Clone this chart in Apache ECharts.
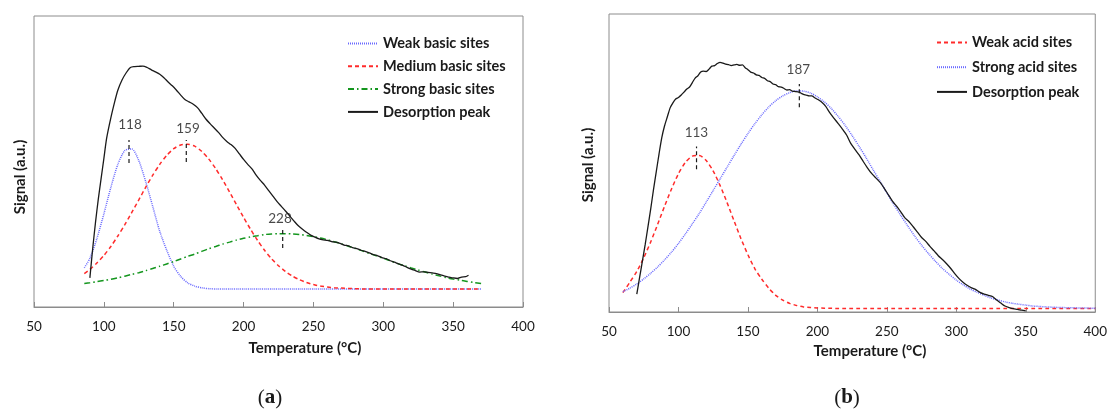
<!DOCTYPE html>
<html>
<head>
<meta charset="utf-8">
<script src="https://cdn.jsdelivr.net/npm/echarts@6/dist/echarts.min.js"></script>
<style>
  html, body { margin: 0; padding: 0; background: #fff; }
  #chart { width: 1110px; height: 410px; }
</style>
</head>
<body>
<div id="chart"></div>
<script>
// ---- panel (a): basic sites ----
var tempCompA = [86, 90, 95, 100, 105, 110, 115, 120, 125, 130, 135, 140, 145, 150, 155, 160, 165, 170, 175, 180,
    185, 190, 195, 200, 205, 210, 215, 220, 225, 230, 235, 240, 245, 250, 255, 260, 265, 270, 275, 280,
    285, 290, 295, 300, 305, 310, 315, 320, 325, 330, 335, 340, 345, 350, 355, 360, 365, 370];
var weakBasic = [13.5, 16.7, 23.5, 32, 41.1, 49, 53.8, 54.3, 50.3, 43, 34.5, 26, 19.5, 14, 10.5, 8.3, 7.2, 6.6, 6.3, 6.2,
    6.2, 6.2, 6.2, 6.2, 6.2, 6.2, 6.2, 6.2, 6.2, 6.2, 6.2, 6.2, 6.2, 6.2, 6.2, 6.2, 6.2, 6.2, 6.2, 6.2,
    6.2, 6.2, 6.2, 6.2, 6.2, 6.2, 6.2, 6.2, 6.2, 6.2, 6.2, 6.2, 6.2, 6.2, 6.2, 6.2, 6.2, 6.2];
var mediumBasic = [11.5, 12.9, 15.1, 17.7, 20.8, 24.4, 28.3, 32.5, 36.8, 41.2, 45.3, 49, 52.1, 54.4, 55.7, 55.9, 55.3, 53.5, 50.9, 47.6,
    43.7, 39.5, 35.1, 30.8, 26.7, 22.9, 19.5, 16.6, 14.2, 12.2, 10.6, 9.4, 8.4, 7.7, 7.2, 6.9, 6.6, 6.5, 6.4, 6.3,
    6.2, 6.2, 6.2, 6.2, 6.2, 6.2, 6.2, 6.2, 6.2, 6.2, 6.2, 6.2, 6.2, 6.2, 6.2, 6.2, 6.2, 6.2];
var strongBasic = [8.1, 8.3, 8.7, 9.1, 9.5, 10.0, 10.6, 11.2, 11.8, 12.5, 13.2, 14.0, 14.8, 15.6, 16.5, 17.4, 18.2, 19.1, 20.0, 20.8,
    21.6, 22.3, 23.0, 23.6, 24.1, 24.5, 24.9, 25.1, 25.2, 25.2, 25.1, 24.9, 24.6, 24.2, 23.7, 23.1, 22.4, 21.7, 20.9, 20.1,
    19.3, 18.4, 17.6, 16.7, 15.9, 15.0, 14.2, 13.4, 12.7, 12.0, 11.3, 10.7, 10.1, 9.6, 9.2, 8.8, 8.4, 8.1];
var tempPeakA = [90, 92, 94, 96, 98, 100, 102, 105, 108, 110, 113, 116, 119, 122, 125, 128,
    131, 134, 137, 140, 143, 146, 149, 152, 155, 158, 161, 164, 167, 170, 173, 176, 179, 182, 185, 188,
    191, 194, 197, 200, 203, 206, 209, 212, 215, 218, 221, 224, 227, 230, 233, 236, 239, 242, 245, 248,
    251, 254, 257, 260, 263, 266, 269, 272, 275, 278, 281, 284, 287, 290, 293, 296, 299, 302, 305, 308,
    311, 314, 317, 320, 323, 326, 329, 332, 335, 338, 341, 344, 347, 350, 353, 356, 359, 361];
var desorpA = [10, 20, 29, 37, 44, 51, 58, 65, 71, 74.5, 78, 80.5, 82.3, 82.6, 82.7, 82.8,
    82.3, 81.5, 80.8, 80, 78.8, 77.3, 76.0, 74.5, 72.8, 71.3, 70.5, 69.7, 68.5, 66.6, 64.6, 63.0, 61.5, 60.0, 58.3, 56.9,
    55.8, 54.5, 52.6, 50.7, 49.0, 47.5, 45.3, 43.5, 41.9, 40.0, 38.1, 36.2, 34.6, 33.0, 31.3, 29.6, 28.0, 26.8, 25.7, 24.7,
    24.0, 23.4, 23.1, 22.9, 22.5, 22.3, 21.9, 21.3, 21.0, 20.4, 20.1, 19.5, 19.1, 18.6, 18.0, 17.6, 17.0, 16.6, 15.9, 15.4,
    14.8, 14.3, 13.6, 13.0, 12.5, 12.0, 12.1, 11.9, 11.7, 11.5, 11.0, 10.6, 10.3, 10.0, 9.8, 10.3, 10.4, 10.9];
// peak marks: dashed tick from lo to hi, label text placed at labelT/labelV
var markA = ['118', '159', '228'];
var markTA = [118, 159, 228];
var markLoA = [49.5, 49.8, 20.3];
var markHiA = [57.4, 57.4, 27.5];
var markLabelTA = [118.7, 160.2, 226.1];
var markLabelVA = [62.5, 61.2, 30.2];

// ---- panel (b): acid sites ----
var tempCompB = [60, 65, 70, 75, 80, 85, 90, 95, 100, 105, 110, 115, 120, 125, 130, 135, 140, 145, 150, 155,
    160, 165, 170, 175, 180, 185, 190, 195, 200, 205, 210, 215, 220, 225, 230, 235, 240, 245, 250, 255,
    260, 265, 270, 275, 280, 285, 290, 295, 300, 305, 310, 315, 320, 325, 330, 335, 340, 345, 350, 355,
    360, 365, 370, 375, 380, 385, 390, 395, 400];
var weakAcid = [6.5, 10.0, 13.6, 18.2, 23.5, 29.4, 35.5, 41.3, 46.4, 50.2, 52.3, 52.5, 50.8, 47.3, 42.4, 36.7, 30.6, 24.6, 19.2, 14.5,
    11.0, 8.0, 5.6, 4.0, 2.9, 2.2, 1.7, 1.5, 1.35, 1.3, 1.25, 1.2, 1.2, 1.2, 1.2, 1.2, 1.2, 1.2, 1.2, 1.2,
    1.2, 1.2, 1.2, 1.2, 1.2, 1.2, 1.2, 1.2, 1.2, 1.2, 1.2, 1.2, 1.2, 1.2, 1.2, 1.2, 1.2, 1.2, 1.2, 1.2,
    1.2, 1.2, 1.2, 1.2, 1.2, 1.2, 1.2, 1.2, 1.2];
var strongAcid = [6.8, 8.0, 9.4, 11.1, 13.0, 15.1, 17.5, 20.1, 23.0, 26.2, 29.6, 33.1, 36.9, 40.8, 44.7, 48.6, 52.5, 56.3, 59.9, 63.2,
    66.2, 68.8, 70.9, 72.5, 73.6, 74.2, 74.1, 73.5, 72.2, 70.5, 68.3, 65.6, 62.6, 59.2, 55.6, 51.8, 47.8, 43.9, 40.0, 36.1,
    32.4, 28.9, 25.5, 22.4, 19.6, 17.0, 14.6, 12.6, 10.7, 9.1, 7.7, 6.6, 5.6, 4.7, 4.0, 3.4, 2.95, 2.6, 2.3, 2.0,
    1.85, 1.7, 1.6, 1.5, 1.45, 1.4, 1.35, 1.3, 1.25];
var tempPeakB = [70, 72, 74, 76, 78, 80, 82, 84, 86, 88, 90, 92, 94, 96, 98, 100, 102, 104, 106, 108,
    110, 112, 114, 116, 118, 120, 122, 124, 126, 128, 130, 132, 134, 136, 138, 140, 142, 144, 146, 148,
    150, 152, 154, 156, 158, 160, 162, 164, 166, 168, 170, 172, 174, 176, 178, 180, 182, 184, 186, 188,
    190, 192, 194, 196, 198, 200, 203, 206, 209, 212, 215, 218, 221, 224, 227, 230, 233, 236, 239, 242,
    245, 248, 251, 254, 257, 260, 263, 266, 269, 272, 275, 278, 281, 284, 287, 290, 293, 296, 299, 302,
    305, 308, 311, 314, 317, 320, 323, 326, 329, 332, 335, 338, 341, 344, 347, 350];
var desorpB = [6, 11.5, 17, 22.5, 28.5, 34.5, 41, 47, 53, 58.5, 62.5, 65.5, 68.5, 70.2, 71.5, 72, 72.8, 73.8, 74.8, 75.5,
    77, 78.5, 79.3, 80.5, 80.8, 80.7, 81.5, 82.5, 82.7, 83.4, 83.8, 83.5, 83.2, 83.0, 82.7, 82.9, 83.1, 82.8, 82.9, 82.0,
    81.3, 80.5, 80.2, 79.6, 79.4, 78.7, 78.4, 77.6, 77.3, 76.5, 76.3, 75.6, 75.5, 75.0, 74.5, 74.6, 74.1, 74.0, 73.9, 73.5,
    73.0, 72.8, 72.5, 72.5, 71.9, 71.4, 70.5, 69.0, 66.8, 65.0, 63.2, 61.4, 59.4, 56.6, 54.6, 52.7, 50.5, 48.4, 46.5, 45.0,
    43.6, 41.6, 39.4, 37.2, 35.5, 33.6, 31.6, 30.3, 28.6, 26.8, 25.0, 23.7, 22.0, 20.5, 18.9, 17.6, 16.2, 14.6, 12.8, 11.2,
    9.9, 8.9, 8.1, 7.5, 6.6, 6.0, 5.6, 5.2, 4.0, 3.0, 2.0, 1.5, 1.1, 0.9, 0.6, 0.4];
var markB = ['113', '187'];
var markTB = [113, 187];
var markLoB = [47.9, 68.7];
var markHiB = [55.5, 76.5];
var markLabelTB = [112.9, 186.3];
var markLabelVB = [60.2, 81.4];

var xTicks = [50, 400, 50]; // min, max, interval

var FONT = 'Lato';
var TXT = '#1a1a1a';
var BLUE = '#6a6aff', RED = '#ff2b2b', GREEN = '#14961e', BLACK = '#1a1a1a';

function pairs(xs, ys) {
    return xs.map(function (x, i) { return [x, ys[i]]; });
}

function curve(name, idx, xs, ys, color, type, width) {
    return {
        name: name, type: 'line', xAxisIndex: idx, yAxisIndex: idx,
        data: pairs(xs, ys), smooth: 0.25, symbol: 'none', silent: true,
        lineStyle: { color: color, type: type, width: width },
        itemStyle: { color: color }
    };
}

function marks(idx, names, ts, lo, hi, lt, lv) {
    var out = [];
    ts.forEach(function (t, i) {
        out.push({
            type: 'line', xAxisIndex: idx, yAxisIndex: idx, symbol: 'none', silent: true,
            data: [[t, lo[i]], [t, hi[i]]],
            lineStyle: { color: BLACK, type: [4, 3], width: 1.2 }
        });
    });
    out.push({
        type: 'scatter', xAxisIndex: idx, yAxisIndex: idx, symbolSize: 0, silent: true,
        data: lt.map(function (t, i) { return [t, lv[i], names[i]]; }),
        label: {
            show: true, position: 'inside', color: TXT, fontFamily: FONT, fontSize: 13.5,
            formatter: function (p) { return p.value[2]; }
        }
    });
    return out;
}

function xAxisFor(idx) {
    return {
        type: 'value', gridIndex: idx, min: xTicks[0], max: xTicks[1], interval: xTicks[2],
        axisLine: { lineStyle: { color: '#8c8c8c', width: 1 } },
        axisTick: { inside: true, length: 5, lineStyle: { color: '#8c8c8c' } },
        axisLabel: { fontFamily: FONT, fontSize: 13.5, color: TXT, margin: 13 },
        splitLine: { show: false }
    };
}

function yAxisFor(idx) {
    return {
        type: 'value', gridIndex: idx, min: 0, max: 100,
        axisLine: { show: false }, axisTick: { show: false },
        axisLabel: { show: false }, splitLine: { show: false }
    };
}

function legendFor(names, left, top, gap) {
    return {
        data: names, orient: 'vertical', left: left, top: top, padding: 0,
        itemWidth: 30, itemHeight: 14, itemGap: gap, selectedMode: false,
        itemStyle: { opacity: 0 },
        textStyle: { fontFamily: FONT, fontWeight: 'bold', fontSize: 14.5, color: TXT }
    };
}

function boldText(str, x, y, rot) {
    return {
        type: 'text', x: x, y: y, rotation: rot,
        style: { text: str, fontFamily: FONT, fontWeight: 'bold', fontSize: 15, fill: TXT, align: 'center', verticalAlign: 'middle' }
    };
}

function panelTag(letter, x, y) {
    return {
        type: 'text', x: x, y: y,
        style: { text: '{p|(}{b|' + letter + '}{p|)}', align: 'center', verticalAlign: 'middle',
                 rich: { p: { fontFamily: 'Liberation Serif', fontSize: 21, fill: TXT },
                         b: { fontFamily: 'Liberation Serif', fontSize: 21, fontWeight: 'bold', fill: TXT } } }
    };
}

var series = [
    curve('Weak basic sites', 0, tempCompA, weakBasic, BLUE, [1, 1], 1.5),
    curve('Medium basic sites', 0, tempCompA, mediumBasic, RED, [4, 3], 1.5),
    curve('Strong basic sites', 0, tempCompA, strongBasic, GREEN, [6, 3, 1.5, 3], 1.5),
    curve('Desorption peak', 0, tempPeakA, desorpA, BLACK, 'solid', 1.3),
    curve('Weak acid sites', 1, tempCompB, weakAcid, RED, [4, 3], 1.5),
    curve('Strong acid sites', 1, tempCompB, strongAcid, BLUE, [1, 1], 1.5),
    curve('Desorption peak', 1, tempPeakB, desorpB, BLACK, 'solid', 1.3)
].concat(marks(0, markA, markTA, markLoA, markHiA, markLabelTA, markLabelVA))
 .concat(marks(1, markB, markTB, markLoB, markHiB, markLabelTB, markLabelVB));

var chart = echarts.init(document.getElementById('chart'), null, { renderer: 'canvas' });
chart.setOption({
    backgroundColor: '#fff',
    animation: false,
    grid: [
        { left: 34, top: 16, width: 489, height: 291, show: true, borderColor: '#8c8c8c', borderWidth: 1 },
        { left: 609, top: 14, width: 488, height: 298, show: true, borderColor: '#8c8c8c', borderWidth: 1 }
    ],
    xAxis: [xAxisFor(0), xAxisFor(1)],
    yAxis: [yAxisFor(0), yAxisFor(1)],
    legend: [
        legendFor(['Weak basic sites', 'Medium basic sites', 'Strong basic sites', 'Desorption peak'], 347, 36, 7.8),
        legendFor(['Weak acid sites', 'Strong acid sites', 'Desorption peak'], 936, 35, 9.7)
    ],
    graphic: [
        boldText('Temperature (°C)', 305, 348, 0),
        boldText('Temperature (°C)', 870, 351, 0),
        boldText('Signal (a.u.)', 20, 177, Math.PI / 2),
        boldText('Signal (a.u.)', 588, 165, Math.PI / 2),
        panelTag('a', 270, 398),
        panelTag('b', 847, 398)
    ],
    series: series
});
</script>
</body>
</html>
